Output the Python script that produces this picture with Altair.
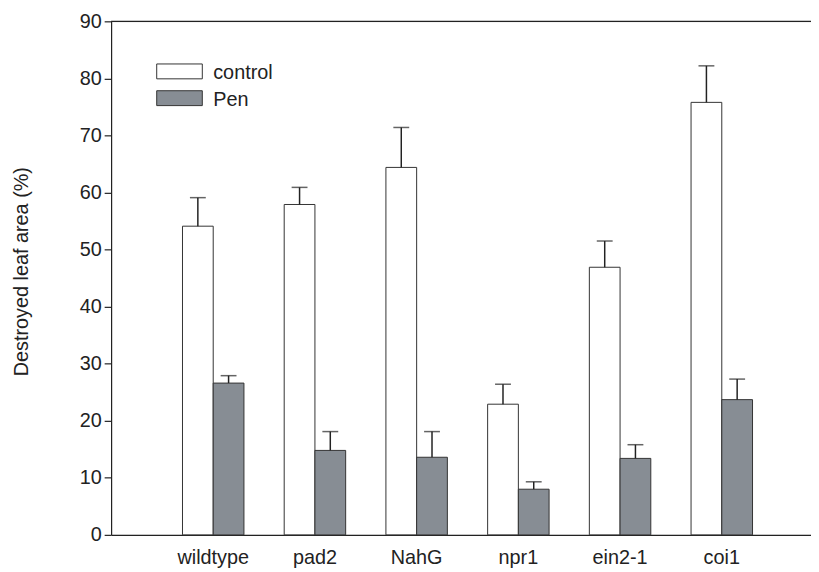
import altair as alt
import pandas as pd

genotypes = ["wildtype", "pad2", "NahG", "npr1", "ein2-1", "coi1"]
treatments = ["control", "Pen"]
control_mean = [54.1, 57.9, 64.4, 22.9, 46.9, 75.8]
control_err = [5.0, 3.0, 7.0, 3.5, 4.6, 6.4]
pen_mean = [26.6, 14.8, 13.6, 8.0, 13.4, 23.7]
pen_err = [1.3, 3.3, 4.5, 1.3, 2.4, 3.6]
y_ticks = [0, 10, 20, 30, 40, 50, 60, 70, 80, 90]

rows = []
for g, m, e in zip(genotypes, control_mean, control_err):
    rows.append({"genotype": g, "treatment": "control", "mean": m, "upper": m + e})
for g, m, e in zip(genotypes, pen_mean, pen_err):
    rows.append({"genotype": g, "treatment": "Pen", "mean": m, "upper": m + e})
df = pd.DataFrame(rows)

FONT = "Liberation Sans"
FS = 20
DARK = "#222222"
GRAY = "#878d94"

x_enc = alt.X(
    "genotype:N",
    sort=genotypes,
    scale=alt.Scale(paddingInner=0, paddingOuter=0.4405, align=0.572),
    axis=alt.Axis(
        title=None, ticks=False, labelAngle=0, labelFontSize=FS, labelFont=FONT,
        labelColor=DARK, labelPadding=13, domainColor=DARK, domainWidth=1.2,
    ),
)
xoff_enc = alt.XOffset(
    "treatment:N", sort=treatments,
    scale=alt.Scale(paddingInner=0, paddingOuter=0.655),
)
y_scale = alt.Scale(domain=[0, 90], nice=False)

bars = alt.Chart(df).mark_bar(stroke="#333333", strokeWidth=1).encode(
    x=x_enc,
    xOffset=xoff_enc,
    y=alt.Y(
        "mean:Q", scale=y_scale,
        axis=alt.Axis(
            values=y_ticks, grid=False, tickSize=7, labelPadding=3,
            labelFontSize=FS, labelFont=FONT, labelColor=DARK,
            domainColor=DARK, domainWidth=1.2, tickColor=DARK, tickWidth=1.2,
            title="Destroyed leaf area (%)", titleFont=FONT, titleFontSize=FS,
            titleFontWeight="normal", titleColor=DARK, titleAngle=-90,
            titleX=-90, titleY=252, titleAlign="center", titleBaseline="middle",
        ),
    ),
    fill=alt.Fill("treatment:N", sort=treatments,
                  scale=alt.Scale(domain=treatments, range=["#ffffff", GRAY]),
                  legend=None),
)

err = alt.Chart(df).mark_rule(color=DARK, strokeWidth=1.5).encode(
    x=alt.X("genotype:N", sort=genotypes),
    xOffset=alt.XOffset("treatment:N", sort=treatments),
    y=alt.Y("mean:Q", scale=y_scale),
    y2="upper:Q",
)
caps = alt.Chart(df).mark_tick(color=DARK, size=16, thickness=1.5).encode(
    x=alt.X("genotype:N", sort=genotypes),
    xOffset=alt.XOffset("treatment:N", sort=treatments),
    y=alt.Y("upper:Q", scale=y_scale),
)

top = alt.Chart(pd.DataFrame({"v": [90]})).mark_rule(color=DARK, strokeWidth=1.2).encode(
    y=alt.Y("v:Q", scale=y_scale)
)

leg_box1 = alt.Chart(pd.DataFrame({"t": ["control"]})).mark_rect(
    fill="#ffffff", stroke="#333333", strokeWidth=1
).encode(x=alt.value(46), x2=alt.value(92), y=alt.value(43), y2=alt.value(58))
leg_box2 = alt.Chart(pd.DataFrame({"t": ["Pen"]})).mark_rect(
    fill=GRAY, stroke="#333333", strokeWidth=1
).encode(x=alt.value(46), x2=alt.value(92), y=alt.value(70), y2=alt.value(85))
leg_txt1 = alt.Chart(pd.DataFrame({"t": ["control"]})).mark_text(
    align="left", baseline="alphabetic", font=FONT, fontSize=FS, color=DARK
).encode(x=alt.value(103), y=alt.value(58), text="t:N")
leg_txt2 = alt.Chart(pd.DataFrame({"t": ["Pen"]})).mark_text(
    align="left", baseline="alphabetic", font=FONT, fontSize=FS, color=DARK
).encode(x=alt.value(103), y=alt.value(85), text="t:N")

chart = alt.layer(
    bars, err, caps, top, leg_box1, leg_box2, leg_txt1, leg_txt2
).properties(
    width=706, height=518,
    autosize=alt.AutoSizeParams(type="none"),
    padding={"left": 104, "top": 11, "right": 0, "bottom": 34},
).configure_view(stroke=None).configure(background="#ffffff")

chart.save("out.html", embed_options={"renderer": "svg", "actions": False})
